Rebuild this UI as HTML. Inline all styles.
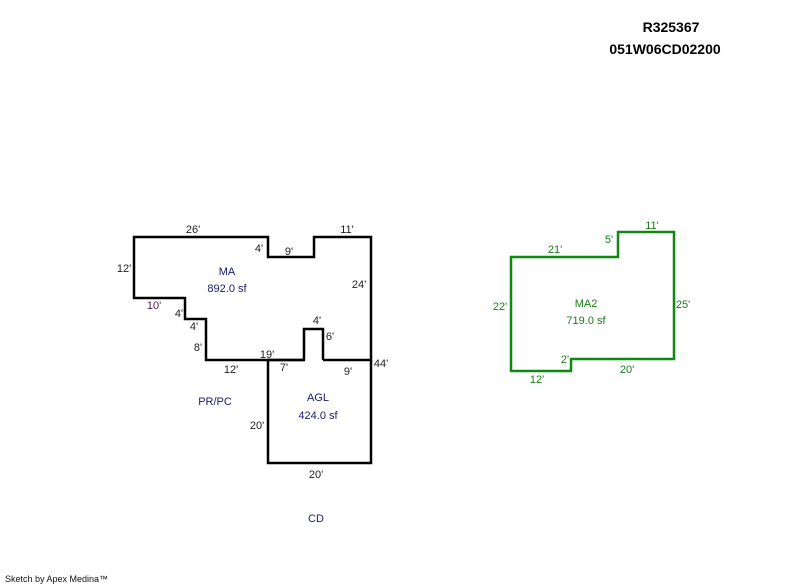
<!DOCTYPE html>
<html><head><meta charset="utf-8"><style>
html,body{margin:0;padding:0;background:#fff;width:800px;height:587px;overflow:hidden}
svg{display:block}
text{font-family:"Liberation Sans",Arial,sans-serif;font-size:11px}
.d{fill:#222;text-anchor:middle}
.n{fill:#1a1a6e;text-anchor:middle}
.g{fill:#1a7a1a;text-anchor:middle}
</style></head><body>
<svg width="800" height="587" viewBox="0 0 800 587">
<text x="671" y="32" text-anchor="middle" style="font-size:14px;font-weight:bold">R325367</text>
<text x="665" y="54" text-anchor="middle" style="font-size:14px;font-weight:bold">051W06CD02200</text>

<polyline points="323,360 323,329 304,329 304,360 206,360 206,319 185,319 185,298 134,298 134,237 268,237 268,257 314,257 314,237 371,237 371,360 323,360" fill="none" stroke="#000" stroke-width="2.5"/>
<polyline points="304,360 268,360 268,463 371,463 371,360" fill="none" stroke="#000" stroke-width="2.5"/>
<polygon points="511,257 618,257 618,232 674,232 674,359 571,359 571,371 511,371" fill="none" stroke="#118811" stroke-width="2.5"/>
<rect x="305.3" y="358" width="16.4" height="4" fill="#fff"/>

<text class="d" x="193" y="233">26'</text>
<text class="d" x="347" y="233">11'</text>
<text class="d" x="259" y="252">4'</text>
<text class="d" x="289" y="255">9'</text>
<text class="d" x="124" y="272">12'</text>
<text class="n" x="227" y="275">MA</text>
<text class="n" x="227" y="292">892.0 sf</text>
<text class="d" x="359" y="288">24'</text>
<text class="d" x="154" y="309" style="fill:#4a1a5a">10'</text>
<text class="d" x="179" y="317">4'</text>
<text class="d" x="194" y="330">4'</text>
<text class="d" x="317" y="324">4'</text>
<text class="d" x="330" y="340">6'</text>
<text class="d" x="198" y="351">8'</text>
<text class="d" x="267" y="358">19'</text>
<text class="d" x="231" y="373">12'</text>
<text class="d" x="284" y="371">7'</text>
<text class="d" x="348" y="375">9'</text>
<text class="d" x="381" y="367">44'</text>
<text class="n" x="215" y="405">PR/PC</text>
<text class="n" x="318" y="401">AGL</text>
<text class="n" x="318" y="419">424.0 sf</text>
<text class="d" x="257" y="429">20'</text>
<text class="d" x="316" y="478">20'</text>
<text class="n" x="316" y="522">CD</text>

<text class="g" x="652" y="229">11'</text>
<text class="g" x="609" y="243">5'</text>
<text class="g" x="555" y="253">21'</text>
<text class="g" x="500" y="310">22'</text>
<text class="g" x="586" y="307">MA2</text>
<text class="g" x="586" y="324">719.0 sf</text>
<text class="g" x="683" y="308">25'</text>
<text class="g" x="565" y="363">2'</text>
<text class="g" x="627" y="373">20'</text>
<text class="g" x="537" y="383">12'</text>

<text x="5" y="582" style="font-size:9px;fill:#111">Sketch by Apex Medina™</text>
</svg>
</body></html>
